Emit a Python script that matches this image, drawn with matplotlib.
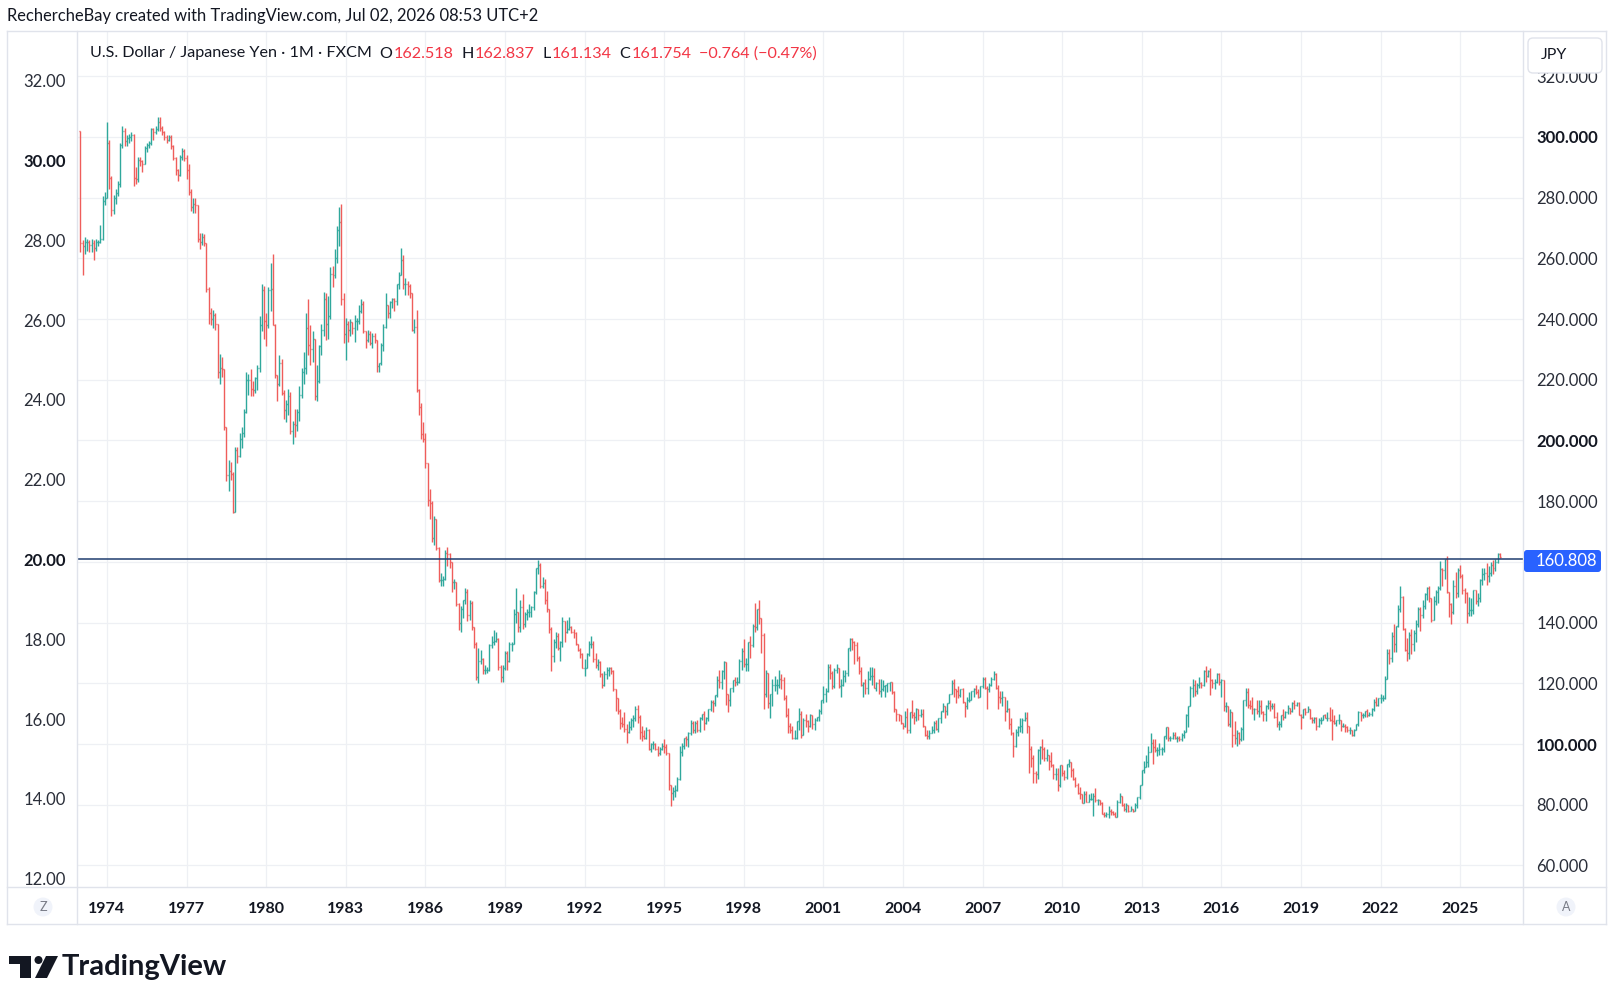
import numpy as np
import matplotlib
matplotlib.use("Agg")
import matplotlib.pyplot as plt
from matplotlib.collections import LineCollection
from matplotlib.patches import FancyBboxPatch, Rectangle, Circle, Polygon
from matplotlib.lines import Line2D
from matplotlib.transforms import IdentityTransform

plt.rcParams['font.family'] = ['Lato', 'DejaVu Sans']

# USD/JPY monthly bars, Jan 1973 .. Jul 2026 (one row per year)
first_open = 302.0
closes = [
    265.0, 264.0, 265.5, 265.5, 264.5, 265.0, 263.5, 265.5, 265.5, 266.5, 279.0, 280.0,  # 1973
    298.0, 286.5, 276.0, 280.0, 281.5, 284.5, 297.5, 302.0, 298.5, 299.5, 300.0, 300.5,  # 1974
    286.5, 286.0, 292.5, 292.0, 291.0, 296.5, 297.5, 298.0, 302.5, 301.5, 302.5, 305.0,  # 1975
    303.0, 301.5, 300.0, 299.0, 300.0, 297.0, 293.0, 289.0, 287.5, 293.5, 295.5, 293.0,  # 1976
    289.0, 282.0, 277.0, 278.0, 277.5, 266.5, 265.5, 267.0, 265.0, 250.0, 242.0, 240.0,  # 1977
    241.5, 238.5, 222.5, 224.0, 223.5, 204.5, 188.5, 190.0, 189.0, 176.5, 197.0, 195.0,  # 1978
    200.5, 202.5, 209.5, 220.0, 220.0, 217.0, 216.5, 220.5, 224.0, 238.0, 249.5, 239.5,  # 1979
    238.0, 249.5, 250.0, 238.0, 221.5, 218.5, 225.5, 215.5, 210.0, 212.0, 214.5, 203.0,  # 1980
    205.5, 205.0, 209.5, 215.0, 222.5, 224.0, 237.0, 231.5, 230.0, 233.5, 214.5, 219.5,  # 1981
    231.0, 236.5, 246.5, 238.5, 241.0, 255.0, 254.5, 260.0, 269.5, 272.0, 246.5, 235.0,  # 1982
    238.5, 236.5, 239.0, 237.0, 239.5, 239.5, 242.5, 245.0, 236.0, 233.0, 235.0, 232.0,  # 1983
    234.5, 233.0, 224.5, 225.5, 231.5, 237.5, 244.5, 242.0, 245.5, 246.5, 246.0, 251.5,  # 1984
    254.5, 259.5, 251.5, 251.5, 251.0, 248.5, 236.5, 237.5, 216.5, 211.0, 202.0, 200.5,  # 1985
    192.5, 180.5, 179.5, 168.0, 174.0, 164.5, 154.0, 154.0, 154.5, 163.0, 162.5, 160.0,  # 1986
    153.5, 153.5, 146.0, 140.0, 144.5, 147.5, 150.0, 142.5, 146.5, 138.5, 133.0, 122.0,  # 1987
    127.5, 128.0, 124.5, 124.5, 124.5, 132.5, 133.5, 134.0, 134.5, 125.5, 122.0, 125.0,  # 1988
    130.0, 127.5, 133.0, 133.0, 143.0, 143.5, 138.5, 145.0, 139.5, 143.0, 143.5, 143.5,  # 1989
    145.0, 150.0, 158.0, 159.0, 152.0, 153.0, 147.5, 144.5, 138.0, 129.0, 133.5, 135.5,  # 1990
    131.5, 133.5, 140.5, 137.0, 138.0, 138.5, 137.0, 136.5, 133.0, 131.0, 129.5, 125.0,  # 1991
    125.0, 129.5, 133.0, 133.0, 128.0, 126.0, 127.0, 123.0, 119.5, 123.0, 124.5, 125.0,  # 1992
    124.0, 118.0, 115.0, 111.0, 107.0, 106.5, 105.0, 104.0, 105.5, 108.0, 108.5, 111.5,  # 1993
    109.0, 104.0, 102.5, 102.0, 104.5, 98.5, 100.0, 100.0, 98.5, 97.0, 98.5, 99.5,  # 1994
    99.0, 97.0, 86.5, 84.0, 84.5, 85.0, 88.5, 97.5, 99.5, 102.0, 101.5, 103.5,  # 1995
    107.0, 104.5, 107.0, 104.5, 108.5, 110.0, 107.0, 108.5, 111.5, 114.0, 113.5, 116.0,  # 1996
    121.0, 120.5, 124.0, 127.0, 116.5, 114.5, 118.5, 121.0, 120.5, 120.5, 127.5, 130.5,  # 1997
    126.5, 126.5, 133.5, 132.5, 139.0, 138.5, 144.5, 141.5, 136.0, 116.5, 123.5, 113.5,  # 1998
    116.5, 119.5, 119.5, 119.5, 121.5, 121.0, 115.0, 109.5, 106.0, 104.5, 102.0, 102.0,  # 1999
    107.5, 110.0, 103.0, 108.0, 107.5, 106.0, 109.5, 106.5, 108.0, 109.0, 111.0, 114.5,  # 2000
    116.5, 117.5, 125.5, 123.5, 119.0, 124.5, 125.0, 119.0, 119.5, 122.5, 123.5, 131.5,  # 2001
    134.5, 133.5, 132.5, 128.5, 124.0, 119.5, 120.0, 118.5, 121.5, 122.5, 122.5, 118.5,  # 2002
    120.0, 117.5, 118.0, 119.0, 119.5, 120.0, 120.5, 117.0, 111.5, 110.0, 109.5, 107.0,  # 2003
    106.0, 109.0, 104.5, 110.5, 109.5, 109.0, 111.5, 109.5, 110.0, 106.0, 103.0, 102.5,  # 2004
    103.5, 104.5, 107.0, 105.0, 108.5, 111.0, 112.5, 111.0, 113.5, 116.5, 120.0, 118.0,  # 2005
    117.5, 116.0, 118.0, 114.0, 112.5, 114.5, 114.5, 117.5, 118.0, 117.0, 115.5, 119.0,  # 2006
    121.5, 118.5, 118.0, 119.5, 121.5, 123.0, 118.5, 115.5, 115.0, 115.5, 111.0, 111.5,  # 2007
    106.5, 103.5, 99.5, 104.0, 105.5, 106.0, 108.0, 108.5, 106.0, 98.5, 95.5, 90.5,  # 2008
    90.0, 98.0, 99.0, 98.5, 95.5, 96.5, 94.5, 93.0, 90.0, 90.0, 86.5, 93.0,  # 2009
    90.5, 89.0, 93.5, 94.0, 91.5, 88.5, 86.5, 84.0, 83.5, 80.5, 83.5, 81.0,  # 2010
    82.0, 82.0, 83.0, 81.5, 81.5, 80.5, 77.0, 76.5, 77.0, 78.0, 77.5, 77.0,  # 2011
    76.0, 81.0, 83.0, 80.0, 78.5, 80.0, 78.0, 78.5, 78.0, 80.0, 82.5, 86.5,  # 2012
    91.5, 92.5, 94.0, 97.5, 100.5, 99.0, 98.0, 98.0, 98.5, 98.5, 102.5, 105.5,  # 2013
    102.0, 102.0, 103.0, 102.0, 102.0, 101.5, 103.0, 104.0, 109.5, 112.5, 118.5, 119.5,  # 2014
    117.5, 119.5, 120.0, 119.5, 124.0, 122.5, 124.0, 121.0, 120.0, 120.5, 123.0, 120.5,  # 2015
    121.0, 112.5, 112.5, 106.5, 110.5, 103.0, 102.0, 103.5, 101.5, 105.0, 114.5, 117.0,  # 2016
    113.0, 112.5, 111.5, 111.5, 111.0, 112.5, 110.5, 110.0, 112.5, 113.5, 112.5, 112.5,  # 2017
    109.0, 106.5, 106.5, 109.5, 109.0, 110.5, 112.0, 111.0, 113.5, 113.0, 113.5, 109.5,  # 2018
    109.0, 111.5, 110.5, 111.5, 108.5, 108.0, 108.5, 106.0, 108.0, 108.0, 109.5, 108.5,  # 2019
    108.5, 108.0, 107.5, 107.0, 108.0, 108.0, 106.0, 106.0, 105.5, 104.5, 104.5, 103.0,  # 2020
    104.5, 106.5, 110.5, 109.5, 109.5, 111.0, 109.5, 110.0, 111.5, 114.0, 113.0, 115.0,  # 2021
    115.0, 115.0, 121.5, 130.0, 128.5, 135.5, 133.0, 139.0, 144.5, 148.5, 138.0, 131.0,  # 2022
    130.0, 136.0, 133.0, 136.5, 139.5, 144.5, 142.5, 145.5, 149.5, 151.5, 148.0, 141.0,  # 2023
    147.0, 150.0, 151.5, 157.8, 157.2, 160.9, 150.0, 146.2, 143.6, 152.0, 149.8, 157.2,  # 2024
    155.2, 150.6, 149.9, 143.1, 144.0, 144.0, 150.7, 147.0, 148.0, 154.0, 156.0, 156.5,  # 2025
    155.5, 156.5, 159.0, 158.0, 160.0, 162.518, 161.754,  # 2026
]
highs = [
    302.0, 266.0, 267.0, 266.5, 266.0, 266.5, 266.0, 266.5, 266.0, 271.0, 280.5, 282.0,
    305.0, 299.0, 287.0, 281.0, 283.0, 285.5, 298.0, 303.5, 303.0, 300.5, 301.0, 301.5,
    301.0, 290.0, 293.5, 293.5, 292.5, 297.0, 298.0, 298.5, 303.0, 303.0, 303.5, 306.5,
    306.5, 303.5, 302.0, 300.5, 300.5, 300.5, 297.5, 293.5, 289.5, 294.0, 296.5, 296.0,
    294.0, 291.0, 283.0, 280.0, 280.0, 277.5, 268.5, 268.5, 268.0, 265.0, 250.5, 243.5,
    243.0, 242.0, 238.5, 228.5, 227.5, 223.5, 204.5, 193.5, 193.0, 189.5, 198.0, 198.0,
    202.5, 204.5, 210.5, 222.5, 222.0, 223.5, 219.5, 221.0, 225.0, 241.0, 251.5, 251.0,
    242.0, 250.5, 258.5, 261.5, 238.5, 221.5, 228.0, 227.0, 216.5, 213.5, 217.0, 216.0,
    206.5, 210.5, 210.5, 218.0, 224.0, 229.0, 242.0, 246.5, 238.0, 236.0, 233.5, 225.0,
    231.5, 238.5, 249.0, 248.5, 247.5, 257.0, 257.5, 263.0, 270.5, 277.0, 278.0, 248.5,
    240.5, 239.5, 240.0, 238.5, 241.5, 240.5, 244.5, 246.5, 246.0, 236.0, 236.5, 236.0,
    235.5, 235.5, 233.0, 225.5, 232.0, 238.5, 248.5, 244.5, 246.0, 247.0, 247.0, 251.5,
    255.5, 263.5, 261.0, 253.5, 252.5, 251.5, 248.5, 240.0, 243.0, 217.0, 212.5, 206.0,
    202.5, 192.5, 184.0, 180.0, 175.0, 174.0, 165.0, 156.5, 155.5, 164.0, 165.0, 163.0,
    160.0, 154.5, 153.5, 146.5, 145.5, 147.5, 151.5, 151.0, 147.5, 147.0, 138.5, 133.5,
    131.5, 131.0, 128.5, 126.0, 125.5, 133.0, 135.5, 137.5, 137.0, 135.0, 126.0, 126.0,
    130.5, 130.5, 133.5, 133.5, 144.5, 151.5, 143.5, 147.5, 149.5, 143.5, 144.5, 146.0,
    145.5, 150.5, 158.0, 160.5, 159.5, 155.0, 154.5, 150.5, 144.5, 138.5, 134.5, 137.0,
    136.5, 134.0, 142.0, 140.5, 141.0, 142.0, 139.0, 138.0, 137.0, 133.0, 131.5, 130.0,
    128.0, 130.0, 134.0, 135.5, 134.0, 130.0, 128.0, 127.5, 123.5, 124.0, 125.5, 125.5,
    125.5, 124.5, 118.0, 114.5, 111.5, 109.0, 110.5, 106.5, 107.5, 108.5, 109.5, 112.5,
    113.0, 109.5, 106.0, 104.5, 105.5, 105.0, 100.5, 101.0, 100.5, 99.5, 99.0, 100.5,
    101.5, 100.0, 97.0, 86.5, 86.0, 86.5, 89.0, 99.5, 100.5, 102.0, 102.5, 104.0,
    108.0, 107.5, 107.5, 108.0, 109.0, 110.0, 111.0, 109.0, 111.5, 114.5, 114.5, 116.0,
    122.5, 124.5, 124.5, 127.5, 127.0, 116.5, 118.5, 121.0, 122.0, 122.0, 128.0, 131.5,
    134.5, 128.5, 133.5, 135.5, 139.5, 146.5, 144.5, 147.5, 139.5, 136.5, 124.5, 123.5,
    116.5, 121.5, 122.5, 121.5, 124.5, 123.0, 122.0, 116.0, 112.0, 107.0, 106.0, 104.5,
    107.5, 112.0, 111.0, 108.5, 110.0, 108.0, 110.0, 109.5, 108.5, 109.0, 111.5, 114.5,
    119.0, 118.5, 126.5, 126.5, 124.0, 125.0, 126.5, 125.0, 121.5, 124.5, 124.5, 131.5,
    135.0, 135.0, 134.0, 133.5, 129.0, 125.5, 120.5, 121.5, 124.0, 125.5, 125.5, 125.0,
    120.5, 121.5, 121.5, 121.0, 119.5, 120.0, 120.5, 120.5, 117.5, 111.5, 110.0, 109.5,
    107.0, 111.0, 112.0, 110.5, 114.5, 110.5, 112.0, 111.0, 111.5, 111.5, 106.0, 104.5,
    104.5, 106.0, 107.5, 108.0, 108.5, 111.0, 113.5, 111.0, 113.5, 116.5, 121.0, 121.5,
    117.5, 119.0, 118.0, 118.5, 114.0, 115.5, 117.0, 117.5, 118.5, 119.5, 118.0, 119.0,
    122.0, 122.0, 119.0, 120.0, 122.0, 124.0, 123.5, 119.5, 117.5, 117.5, 115.0, 114.5,
    112.0, 108.5, 104.0, 105.0, 106.0, 108.5, 108.5, 110.5, 110.5, 106.0, 99.5, 96.5,
    91.0, 98.5, 99.5, 101.5, 99.0, 98.5, 95.5, 97.5, 93.5, 92.0, 92.0, 93.0,
    93.0, 91.5, 93.5, 95.0, 94.0, 92.0, 89.0, 87.0, 86.0, 83.5, 84.5, 84.5,
    83.5, 84.0, 84.0, 85.5, 82.0, 81.5, 81.0, 77.5, 77.5, 79.5, 78.5, 78.0,
    77.5, 81.5, 84.0, 81.5, 80.5, 80.5, 79.5, 79.5, 78.5, 80.5, 82.5, 86.5,
    91.5, 94.5, 96.5, 99.5, 103.5, 101.5, 101.5, 99.0, 100.5, 99.0, 102.5, 105.5,
    105.5, 102.5, 104.0, 104.0, 102.5, 102.5, 103.5, 104.5, 110.0, 112.5, 119.0, 121.5,
    121.0, 120.0, 122.0, 120.5, 124.5, 125.8, 124.5, 125.0, 121.5, 121.5, 123.5, 123.5,
    121.5, 121.0, 114.0, 112.0, 111.5, 110.5, 107.5, 104.5, 104.0, 105.5, 114.5, 118.5,
    118.5, 114.5, 115.5, 112.0, 114.5, 114.5, 114.5, 111.0, 113.0, 114.5, 114.5, 113.5,
    113.5, 110.5, 107.5, 109.5, 111.5, 111.0, 113.0, 112.0, 114.0, 114.5, 114.0, 113.8,
    110.0, 111.5, 112.0, 112.5, 111.5, 108.8, 109.0, 109.0, 108.5, 109.0, 109.5, 109.8,
    110.5, 112.2, 111.7, 109.5, 108.0, 109.8, 107.5, 107.0, 106.5, 106.0, 105.5, 104.5,
    105.0, 106.5, 110.8, 110.0, 110.2, 111.0, 111.5, 110.5, 112.0, 114.7, 115.5, 115.2,
    116.4, 116.0, 122.5, 131.2, 131.3, 137.0, 139.4, 139.0, 145.9, 151.9, 148.8, 138.2,
    134.8, 136.9, 137.9, 137.5, 140.9, 145.1, 145.0, 147.4, 149.7, 151.7, 151.9, 148.0,
    148.8, 150.9, 151.9, 160.2, 157.9, 161.0, 161.95, 150.0, 146.5, 153.9, 156.7, 158.1,
    158.9, 155.9, 151.3, 150.0, 148.6, 148.0, 150.9, 148.8, 149.9, 154.5, 157.9, 158.0,
    159.5, 158.5, 160.0, 160.5, 160.8, 162.9, 162.837,
]
lows = [
    262.0, 254.5, 261.5, 262.5, 262.0, 262.0, 259.5, 262.5, 264.0, 265.0, 266.0, 277.5,
    280.0, 283.0, 274.0, 274.5, 278.0, 280.5, 283.5, 296.5, 297.0, 297.0, 298.0, 298.5,
    284.0, 284.5, 285.0, 290.5, 288.5, 291.0, 295.0, 296.5, 297.5, 299.0, 301.0, 302.0,
    302.0, 300.5, 299.0, 298.0, 298.5, 296.0, 292.5, 287.5, 285.5, 287.0, 292.5, 292.0,
    286.0, 281.0, 275.5, 275.0, 275.0, 265.5, 263.0, 264.5, 264.0, 249.0, 238.5, 238.0,
    237.0, 236.5, 220.5, 218.5, 221.0, 203.5, 186.5, 183.5, 187.0, 176.0, 176.5, 192.5,
    194.5, 197.5, 201.0, 209.0, 215.0, 214.5, 214.5, 215.5, 216.5, 222.5, 236.0, 233.5,
    231.0, 237.0, 242.5, 238.0, 220.5, 213.0, 218.0, 215.0, 207.0, 206.0, 208.5, 202.0,
    199.0, 201.0, 203.0, 206.5, 214.0, 218.5, 222.0, 228.0, 225.0, 226.0, 213.5, 213.0,
    219.0, 228.0, 234.5, 233.0, 233.5, 240.0, 250.5, 253.5, 258.5, 264.0, 244.5, 232.0,
    226.5, 232.5, 234.5, 235.0, 232.5, 236.5, 238.5, 242.0, 235.5, 230.5, 232.5, 231.5,
    230.5, 232.0, 222.5, 222.5, 225.0, 229.5, 237.0, 240.5, 240.5, 243.5, 242.5, 244.5,
    250.0, 254.5, 250.0, 248.0, 248.0, 247.0, 236.0, 235.5, 216.0, 208.5, 200.5, 199.5,
    191.0, 178.5, 174.0, 166.5, 165.5, 164.0, 153.5, 152.0, 152.0, 154.0, 158.5, 158.0,
    150.0, 151.0, 145.5, 137.5, 137.0, 141.5, 146.0, 140.5, 141.0, 137.5, 131.5, 121.0,
    120.0, 126.5, 123.0, 123.0, 123.5, 124.0, 131.5, 132.5, 133.5, 124.5, 120.5, 120.5,
    124.5, 124.5, 127.0, 130.5, 133.0, 140.0, 137.0, 137.0, 138.0, 138.5, 141.0, 142.0,
    142.0, 144.0, 149.5, 156.0, 151.5, 151.5, 146.0, 143.5, 136.5, 124.0, 127.0, 131.5,
    131.0, 127.5, 132.0, 133.5, 136.5, 137.5, 136.5, 135.0, 132.5, 130.5, 128.5, 125.0,
    122.5, 125.0, 129.0, 131.5, 127.0, 125.0, 124.5, 122.0, 118.5, 119.0, 121.5, 122.5,
    123.0, 117.5, 111.0, 110.0, 105.0, 105.5, 104.0, 100.5, 103.5, 104.5, 105.5, 107.5,
    107.0, 101.5, 101.0, 101.5, 101.5, 98.0, 97.5, 98.5, 98.0, 96.0, 96.5, 98.0,
    97.0, 96.5, 85.0, 79.5, 81.5, 82.5, 84.5, 88.0, 96.0, 98.5, 99.5, 99.0,
    103.0, 103.5, 103.5, 104.0, 104.0, 108.0, 104.5, 106.5, 107.5, 111.0, 110.5, 112.5,
    115.5, 118.5, 118.0, 121.5, 113.0, 110.5, 112.5, 117.0, 119.0, 119.5, 120.0, 124.5,
    125.5, 124.0, 124.0, 128.5, 132.0, 137.0, 137.5, 139.5, 130.0, 111.5, 115.5, 112.0,
    108.5, 112.5, 117.5, 116.5, 118.5, 118.0, 114.5, 109.0, 103.5, 103.5, 101.5, 101.5,
    101.5, 104.5, 102.0, 103.5, 105.5, 104.0, 105.5, 105.0, 104.5, 107.5, 107.5, 110.0,
    113.5, 114.0, 117.0, 121.5, 118.0, 118.5, 123.5, 118.5, 115.5, 119.0, 120.5, 122.5,
    130.5, 131.0, 126.5, 127.5, 123.0, 119.0, 115.5, 116.5, 116.5, 121.0, 119.5, 118.5,
    117.5, 116.5, 115.5, 117.5, 115.5, 117.0, 117.5, 116.5, 110.5, 107.5, 107.5, 106.5,
    105.0, 105.5, 103.5, 103.5, 108.5, 106.5, 107.5, 108.0, 109.0, 105.5, 102.5, 101.8,
    101.8, 103.5, 103.5, 104.5, 104.0, 107.0, 110.5, 108.5, 109.5, 113.5, 116.5, 115.5,
    113.5, 115.0, 115.5, 113.5, 109.0, 111.5, 114.0, 114.5, 115.5, 116.5, 115.0, 115.5,
    118.5, 118.0, 111.5, 117.0, 119.0, 121.0, 118.0, 111.5, 113.5, 112.5, 107.5, 110.5,
    105.0, 103.0, 95.8, 99.0, 102.5, 104.0, 103.5, 107.5, 103.5, 90.5, 92.5, 87.2,
    87.2, 88.5, 93.5, 95.0, 94.5, 94.5, 91.5, 92.5, 88.5, 88.0, 84.5, 86.0,
    89.5, 88.0, 88.5, 92.5, 89.0, 88.0, 86.0, 83.5, 82.0, 80.5, 80.5, 81.0,
    81.0, 81.5, 76.3, 81.0, 80.0, 80.0, 77.0, 75.9, 75.9, 75.6, 76.5, 76.5,
    76.0, 76.0, 80.5, 79.5, 78.0, 77.5, 77.5, 78.0, 77.5, 78.0, 79.0, 82.0,
    86.5, 90.5, 92.5, 92.5, 97.5, 93.5, 97.5, 96.0, 96.5, 96.5, 97.5, 101.5,
    101.0, 101.0, 101.5, 101.5, 100.8, 101.0, 101.0, 102.0, 104.0, 105.5, 112.5, 115.5,
    115.8, 116.5, 118.5, 118.5, 119.0, 120.5, 122.0, 116.0, 118.5, 118.0, 120.0, 119.5,
    115.5, 111.0, 110.5, 106.0, 105.5, 99.0, 100.0, 99.5, 100.0, 101.0, 101.2, 112.5,
    112.0, 111.5, 110.0, 108.0, 110.0, 108.8, 110.0, 107.5, 107.5, 111.5, 110.8, 111.5,
    108.5, 105.5, 104.6, 105.5, 108.0, 108.5, 110.0, 109.8, 110.5, 111.5, 112.5, 109.5,
    104.8, 108.5, 109.5, 110.8, 108.3, 106.8, 107.0, 104.5, 105.5, 106.5, 107.8, 108.5,
    107.5, 107.5, 101.2, 106.5, 106.0, 106.5, 104.2, 105.5, 104.0, 104.0, 103.2, 102.8,
    102.6, 104.5, 106.0, 107.5, 108.5, 109.0, 109.0, 109.2, 109.2, 110.8, 112.5, 112.5,
    113.5, 114.2, 114.7, 121.3, 126.4, 126.9, 130.4, 130.4, 138.6, 143.5, 137.5, 130.6,
    127.2, 128.1, 129.6, 130.6, 133.5, 138.5, 137.2, 141.5, 144.4, 147.3, 146.7, 140.2,
    140.8, 145.9, 146.5, 150.8, 151.9, 154.5, 149.6, 141.7, 139.6, 142.9, 148.0, 148.6,
    154.8, 149.3, 146.5, 139.9, 142.1, 142.1, 142.7, 146.2, 145.5, 146.8, 152.5, 154.0,
    152.5, 153.5, 155.5, 156.0, 157.0, 159.5, 161.134,
]
price_line = 160.808
year_ticks = list(range(1974, 2026, 3))
right_ticks = list(range(60, 321, 20))
left_ticks = list(range(12, 33, 2))
legend_vals = [("O", "162.518"), ("H", "162.837"), ("L", "161.134"), ("C", "161.754")]
legend_change = "\u22120.764 (\u22120.47%)"

UP = "#2fa89c"
DOWN = "#ef5d5b"
TXT = "#131722"
GRID = "#eef0f4"
BORDER = "#e0e3eb"

W, H = 1614, 990
fig = plt.figure(figsize=(W / 100, H / 100), dpi=100)
fig.patch.set_facecolor("white")
PX = IdentityTransform()


def py(y):
    # pixel row from the top -> display y
    return H - y


# plot box: x 77..1523, y 31..887 (pixels from top)
ax = fig.add_axes([77 / W, 1 - 887 / H, 1446 / W, 856 / H])
axl = ax.twinx()   # left scale; twinx moves ax ticks to the left, fixed below
ax.set_xlim(1972.87, 2027.37)
ax.set_ylim(52.9, 334.9)

c = np.array(closes)
hi = np.array(highs)
lo = np.array(lows)
o = np.concatenate([[first_open], c[:-1]])
hi = np.maximum(hi, np.maximum(o, c))
lo = np.minimum(lo, np.minimum(o, c))
xs = 1973 + np.arange(len(c)) / 12.0
tw = 0.45 / 12

segs, cols = [], []
for x, op, h, l, cl in zip(xs, o, hi, lo, c):
    col = UP if cl >= op else DOWN
    segs += [[(x, l), (x, h)], [(x - tw, op), (x, op)], [(x, cl), (x + tw, cl)]]
    cols += [col] * 3
ax.add_collection(LineCollection(segs, colors=cols, linewidths=1.0, zorder=3))

ax.axhline(price_line, color="#1f3d6f", lw=1.1, zorder=4)

# grid
for yv in right_ticks:
    ax.axhline(yv, color=GRID, lw=0.9, zorder=0)
for xv in year_ticks:
    ax.axvline(xv, color=GRID, lw=0.9, zorder=0)

for s in ax.spines.values():
    s.set_visible(False)

ax.yaxis.tick_right()
ax.yaxis.set_label_position("right")
ax.set_yticks(right_ticks, [f"{v:.3f}" for v in right_ticks])
ax.tick_params(axis="y", which="both", left=False, right=True, labelleft=False, labelright=True,
               length=0, pad=9.5, labelsize=12, labelcolor="#2a2e39")
for lbl in ax.get_yticklabels():
    if lbl.get_text() in ("300.000", "200.000", "100.000"):
        lbl.set_fontweight("bold")
        lbl.set_color(TXT)

ax.set_xticks(year_ticks, [str(v) for v in year_ticks])
ax.tick_params(axis="x", length=0, pad=11, labelsize=11.5, labelcolor=TXT)
for lbl in ax.get_xticklabels():
    lbl.set_fontweight("bold")

# left scale
axl.set_ylim(20 + (52.9 - price_line) * 0.07607, 20 + (334.9 - price_line) * 0.07607)
axl.set_yticks(left_ticks, [f"{v:.2f}" for v in left_ticks])
axl.tick_params(axis="y", which="both", left=True, right=False, labelleft=True, labelright=False,
                length=0, pad=8, labelsize=12, labelcolor="#2a2e39")
for lbl in axl.get_yticklabels():
    if lbl.get_text() in ("30.00", "20.00"):
        lbl.set_fontweight("bold")
        lbl.set_color(TXT)
for s in axl.spines.values():
    s.set_visible(False)

# panel frame
frame = [((7, 31), (1606, 31)), ((7, 924), (1606, 924)), ((7, 31), (7, 924)),
         ((1606, 31), (1606, 924)), ((77, 31), (77, 924)), ((1523, 31), (1523, 924)),
         ((7, 887), (1606, 887))]
for (x0, y0), (x1, y1) in frame:
    fig.add_artist(Line2D([x0, x1], [py(y0), py(y1)], transform=PX, color=BORDER, lw=1.0))

# price label on right scale
fig.add_artist(FancyBboxPatch((1524, py(572)), 77, 22, boxstyle="round,pad=0,rounding_size=3",
                              transform=PX, facecolor="#2962ff", edgecolor="none", zorder=6))
fig.text(1536, py(561), f"{price_line:.3f}", transform=PX, color="white", fontsize=12,
         va="center", ha="left", zorder=7)

# currency box (covers the top of the 320 label, as in the screenshot)
fig.add_artist(FancyBboxPatch((1528, py(73)), 74, 35, boxstyle="round,pad=0,rounding_size=5",
                              transform=PX, facecolor="white", edgecolor=BORDER, lw=1.0, zorder=6))
fig.text(1541, py(55), "JPY", transform=PX, color=TXT, fontsize=11.5, va="center", zorder=7)

# scale buttons
for cx, letter in ((43, "Z"), (1566, "A")):
    fig.add_artist(Circle((cx, py(907)), 9.5, transform=PX, facecolor="#f0f3fa",
                          edgecolor="none", zorder=6))
    fig.text(cx, py(907), letter, transform=PX, color="#787b86", fontsize=9,
             ha="center", va="center", zorder=7)

# header
fig.text(7, py(16), "RechercheBay created with TradingView.com, Jul 02, 2026 08:53 UTC+2",
         transform=PX, color=TXT, fontsize=11.9, va="center", ha="left")

# legend line
renderer = fig.canvas.get_renderer()
LFS = 11.6
xpos = 89.5
t = fig.text(xpos, py(53.5), "U.S. Dollar / Japanese Yen \u00b7 1M \u00b7 FXCM", transform=PX,
             color=TXT, fontsize=LFS, va="center")
xpos = t.get_window_extent(renderer).x1 + 8
for k, v in legend_vals:
    t = fig.text(xpos, py(53.5), k, transform=PX, color=TXT, fontsize=LFS, va="center")
    xpos = t.get_window_extent(renderer).x1 + 1
    t = fig.text(xpos, py(53.5), v, transform=PX, color="#f23645", fontsize=LFS, va="center")
    xpos = t.get_window_extent(renderer).x1 + 8
fig.text(xpos, py(53.5), legend_change, transform=PX, color="#f23645", fontsize=LFS, va="center")

# TradingView logo
fig.add_artist(Rectangle((9, py(964)), 22, 8, transform=PX, facecolor=TXT, edgecolor="none"))
fig.add_artist(Rectangle((20, py(978)), 11, 22, transform=PX, facecolor=TXT, edgecolor="none"))
fig.add_artist(Circle((38.5, py(960)), 4.0, transform=PX, facecolor=TXT, edgecolor="none"))
fig.add_artist(Polygon([(46, py(956)), (58, py(956)), (47, py(978)), (35, py(978))],
                       closed=True, transform=PX, facecolor=TXT, edgecolor="none"))
fig.text(62, py(967), "TradingView", transform=PX, color=TXT, fontsize=21,
         fontweight="bold", va="center", ha="left")

fig.savefig("out.png", dpi=100, facecolor="white")
